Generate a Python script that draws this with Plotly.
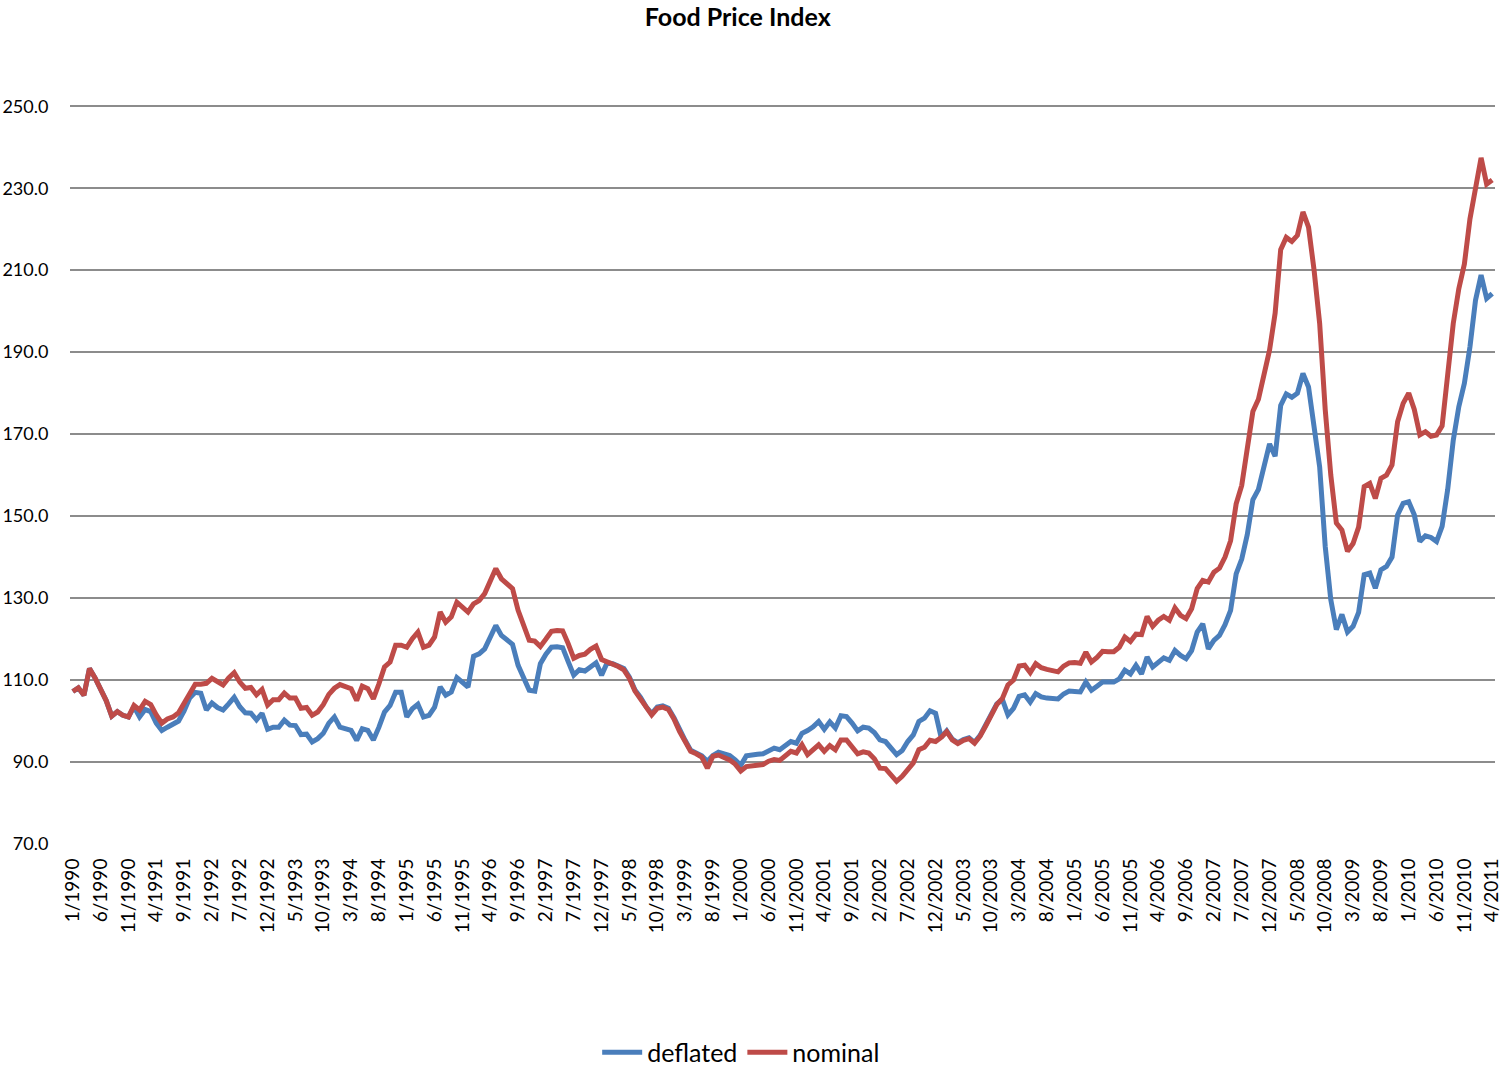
import plotly.graph_objects as go

# Monthly categories 1/1990 .. 4/2011
months = [f"{m}/{y}" for y in range(1990, 2012) for m in range(1, 13)]
months = months[:months.index("4/2011") + 1]

nominal = [
    107.2, 108.1, 106.3, 112.8, 110.5, 108.0, 105.0, 101.2, 102.3, 101.4,
    101.0, 103.8, 102.7, 104.8, 104.0, 101.5, 99.5, 100.5, 101.0, 102.0,
    104.5, 106.8, 109.0, 109.0, 109.2, 110.4, 109.5, 108.8, 110.5, 111.8,
    109.5, 108.0, 108.2, 106.4, 107.7, 103.9, 105.2, 105.2, 106.8, 105.6,
    105.6, 103.1, 103.3, 101.4, 102.2, 104.0, 106.5, 108.0, 108.9, 108.3,
    107.9, 105.0, 108.5, 107.9, 105.4, 109.1, 113.2, 114.4, 118.5, 118.5,
    118.0, 120.1, 121.7, 118.0, 118.5, 120.5, 126.6, 124.1, 125.4, 129.0,
    127.8, 126.6, 128.6, 129.4, 131.1, 133.9, 137.2, 134.7, 133.5, 132.3,
    127.0, 122.9, 119.7, 119.5, 118.2, 120.0, 121.9, 122.1, 122.0, 118.9,
    115.3, 116.0, 116.3, 117.5, 118.3, 115.0, 114.5, 114.0, 113.3, 112.5,
    110.4, 107.3, 105.5, 103.2, 101.5, 103.1, 103.4, 102.8, 100.5, 97.5,
    95.0, 92.6, 92.0, 91.2, 88.5, 91.4, 91.7, 91.2, 90.5, 89.5,
    87.8, 88.9, 89.1, 89.2, 89.4, 90.2, 90.6, 90.4, 91.6, 92.6,
    92.2, 94.2, 91.8, 93.0, 94.2, 92.6, 94.0, 93.0, 95.4, 95.4,
    93.8, 92.0, 92.5, 92.2, 90.8, 88.5, 88.4, 87.0, 85.3, 86.5,
    88.3, 89.8, 93.0, 93.6, 95.3, 95.0, 96.0, 97.4, 95.4, 94.5,
    95.3, 95.7, 94.6, 96.3, 98.8, 101.5, 104.0, 105.5, 108.8, 110.0,
    113.4, 113.6, 111.8, 114.0, 113.0, 112.6, 112.3, 112.0, 113.4, 114.2,
    114.3, 114.1, 116.8, 114.4, 115.5, 117.0, 116.9, 116.9, 118.0, 120.5,
    119.4, 121.2, 121.1, 125.5, 123.1, 124.6, 125.5, 124.6, 127.6, 125.8,
    125.0, 127.4, 132.3, 134.3, 133.9, 136.3, 137.3, 140.0, 144.0, 153.0,
    157.5, 166.0, 175.5, 178.5, 184.5, 190.5, 199.5, 215.0, 218.0, 217.0,
    218.5, 224.2, 220.5, 210.0, 197.0, 176.0, 160.0, 148.3, 146.6, 141.4,
    143.3, 147.3, 157.2, 158.0, 154.3, 159.2, 160.0, 162.5, 173.0, 177.5,
    180.0, 176.0, 169.8, 170.6, 169.5, 169.8, 172.0, 184.0, 197.0, 205.5,
    211.5, 222.5, 230.5, 237.4, 231.0, 232.0,
]

deflated = [
    107.2, 108.1, 106.3, 112.8, 110.5, 108.0, 105.0, 101.2, 102.3, 101.4,
    101.0, 103.5, 101.0, 102.8, 102.3, 99.5, 97.7, 98.5, 99.2, 100.0,
    102.5, 105.6, 107.0, 106.8, 102.7, 104.4, 103.3, 102.7, 104.2, 105.8,
    103.5, 102.0, 101.9, 100.3, 101.9, 98.0, 98.5, 98.5, 100.2, 99.0,
    98.9, 96.7, 96.8, 94.9, 95.7, 97.0, 99.5, 101.0, 98.5, 98.0,
    97.7, 95.3, 98.1, 97.7, 95.4, 98.5, 102.2, 103.8, 107.0, 107.0,
    101.0, 103.0, 104.1, 101.0, 101.4, 103.4, 108.3, 106.3, 107.1, 110.6,
    109.5, 108.3, 115.8, 116.4, 117.6, 120.5, 123.3, 120.9, 119.7, 118.7,
    113.6, 110.3, 107.5, 107.3, 114.0, 116.3, 118.0, 118.1, 117.9, 114.5,
    111.2, 112.5, 112.2, 113.2, 114.2, 111.2, 114.2, 114.0, 113.5, 112.8,
    110.7, 107.6, 105.8, 103.5, 101.8, 103.4, 103.7, 103.1, 100.8, 97.8,
    95.3, 92.9, 92.3, 91.5, 90.2, 91.6, 92.4, 92.0, 91.6, 90.5,
    89.2, 91.5, 91.8, 91.9, 92.0, 92.8, 93.4, 93.0, 94.0, 95.0,
    94.6, 97.0, 97.7, 98.6, 99.9, 98.0, 99.8, 98.3, 101.3, 101.1,
    99.5, 97.6, 98.5, 98.3, 97.2, 95.4, 95.0, 93.4, 91.8, 92.8,
    95.0, 96.6, 99.9, 100.7, 102.5, 101.9, 96.0, 97.6, 95.6, 94.7,
    95.5, 95.9, 94.8, 96.5, 99.0, 101.7, 104.2, 105.3, 101.5, 103.1,
    106.0, 106.4, 104.6, 106.7, 105.9, 105.6, 105.4, 105.4, 106.6, 107.3,
    107.2, 107.1, 109.5, 107.5, 108.5, 109.5, 109.5, 109.5, 110.3, 112.4,
    111.5, 113.6, 111.5, 115.6, 113.2, 114.4, 115.4, 114.8, 117.2, 116.0,
    115.2, 117.2, 121.7, 123.7, 117.6, 119.7, 120.9, 123.5, 127.0, 135.9,
    139.5, 145.5, 154.0, 156.5, 162.0, 167.6, 164.6, 177.0, 179.8, 179.0,
    180.0, 184.8, 181.5, 172.0, 162.0, 142.6, 129.6, 122.3, 126.0, 121.7,
    123.1, 126.5, 135.7, 136.1, 132.4, 136.9, 137.7, 140.0, 150.3, 153.1,
    153.5, 150.3, 143.8, 145.2, 144.8, 143.8, 147.5, 156.5, 168.5, 176.7,
    182.4, 191.3, 202.7, 208.8, 203.1, 204.3,
]

tick_labels = months[::5]
y_ticks = [70, 90, 110, 130, 150, 170, 190, 210, 230, 250]

FONT = "Lato"

fig = go.Figure()
fig.add_trace(go.Scatter(x=months, y=deflated, mode="lines", name="deflated",
                         line=dict(color="#4A7EBB", width=5)))
fig.add_trace(go.Scatter(x=months, y=nominal, mode="lines", name="nominal",
                         line=dict(color="#BE4B48", width=5)))

fig.update_layout(
    width=1501, height=1066,
    margin=dict(l=70, r=6, t=105, b=222, autoexpand=False),
    paper_bgcolor="white", plot_bgcolor="white",
    font=dict(family=FONT, color="#000000"),
    title=dict(text="<b>Food Price Index</b>", x=0.4915, xanchor="center",
               y=1 - 17 / 1066, yanchor="middle",
               font=dict(family=FONT, size=25, color="#000000")),
    legend=dict(orientation="h", x=0.471, xanchor="center",
                y=-0.282, yanchor="middle", font=dict(family=FONT, size=25),
                itemwidth=40, tracegroupgap=0),
    showlegend=True,
)
fig.update_xaxes(type="category", range=[-0.5, len(months) - 0.5],
                 tickmode="array", tickvals=tick_labels, ticktext=tick_labels,
                 tickangle=-90, tickfont=dict(family=FONT, size=19),
                 showgrid=False, showline=False, zeroline=False,
                 ticks="outside", ticklen=6, tickcolor="rgba(0,0,0,0)",
                 automargin=False)
fig.update_yaxes(range=[70, 250.3], tickmode="array", tickvals=y_ticks,
                 ticktext=[f"{v:.1f}" for v in y_ticks],
                 tickfont=dict(family=FONT, size=18),
                 showgrid=True, gridcolor="#8C8C8C", gridwidth=2,
                 zeroline=False, showline=False,
                 ticks="outside", ticklen=17, tickcolor="rgba(0,0,0,0)",
                 automargin=False)

fig.write_html("out.html")
